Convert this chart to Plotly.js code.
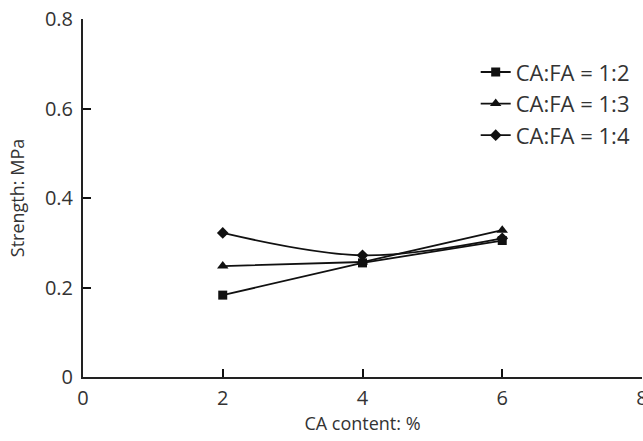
<!DOCTYPE html>
<html>
<head>
<meta charset="utf-8">
<script src="https://cdn.plot.ly/plotly-3.0.1.min.js"></script>
<style>html,body{margin:0;padding:0;background:#fff;}#chart{width:643px;height:441px;}</style>
</head>
<body>
<div id="chart"></div>
<script>
const caContent = [2, 4, 6];
const ratio12 = [0.183, 0.255, 0.305];
const ratio13 = [0.248, 0.257, 0.328];
const ratio14 = [0.322, 0.272, 0.31];
const seriesNames = ["CA:FA = 1:2", "CA:FA = 1:3", "CA:FA = 1:4"];
const xTicks = [0, 2, 4, 6, 8];
const yTicks = [0, 0.2, 0.4, 0.6, 0.8];
const yTickText = ["0", "0.2", "0.4", "0.6", "0.8"];

const lineStyle = {color: "#111", width: 1.8};
const traces = [
  {x: caContent, y: ratio12, name: seriesNames[0], legendgroup: "a", mode: "lines+markers",
   line: Object.assign({shape: "linear"}, lineStyle), marker: {symbol: "square", size: 9, color: "#111"}},
  {x: caContent, y: ratio13, name: seriesNames[1], legendgroup: "b", mode: "lines+markers",
   line: Object.assign({shape: "linear"}, lineStyle), marker: {symbol: "triangle-up", size: 10, color: "#111"}},
  {x: caContent, y: ratio14, name: seriesNames[2], legendgroup: "c", mode: "lines+markers",
   line: Object.assign({shape: "spline", smoothing: 1}, lineStyle), marker: {symbol: "diamond", size: 9, color: "#111"}}
];

const layout = {
  width: 643, height: 441,
  margin: {l: 83, r: 1, t: 19, b: 64},
  paper_bgcolor: "#fff", plot_bgcolor: "rgba(0,0,0,0)",
  font: {family: "'Open Sans', 'Noto Sans', sans-serif", size: 20, color: "#333"},
  showlegend: true,
  legend: {x: 0.7025, y: 0.91, xanchor: "left", yanchor: "top", bgcolor: "rgba(0,0,0,0)",
           font: {size: 22, color: "#333"}, traceorder: "grouped", tracegroupgap: 0},
  xaxis: {range: [0, 8.0001], tickmode: "array", tickvals: xTicks, ticktext: xTicks.map(String),
          ticks: "inside", ticklen: 8, tickwidth: 2.2, tickcolor: "#111",
          showline: true, linecolor: "#222", linewidth: 2, showgrid: false, zeroline: false,
          ticklabeloverflow: "allow", ticklabelstandoff: 2,
          fixedrange: true, title: {text: "CA content: %", standoff: 4, font: {size: 18, color: "#333"}}},
  yaxis: {range: [0, 0.8001], tickmode: "array", tickvals: yTicks, ticktext: yTickText,
          ticks: "inside", ticklen: 8, tickwidth: 2.2, tickcolor: "#111",
          showline: true, linecolor: "#222", linewidth: 2, showgrid: false, zeroline: false,
          ticklabelstandoff: 4,
          fixedrange: true, title: {text: "Strength: MPa", standoff: 16, font: {size: 18, color: "#333"}}}
};

Plotly.newPlot("chart", traces, layout, {displayModeBar: false});
</script>
</body>
</html>
